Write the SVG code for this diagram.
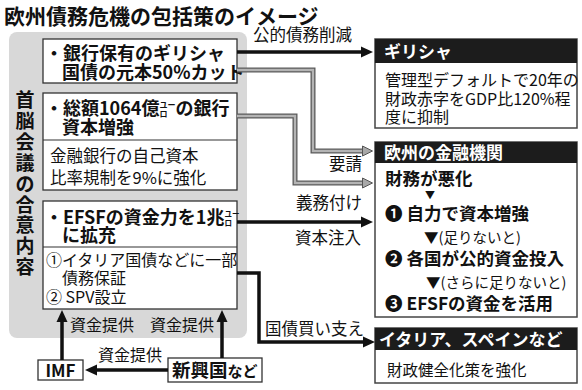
<svg xmlns="http://www.w3.org/2000/svg" width="582" height="390" viewBox="0 0 582 390">
<style>
text{font-family:"Noto Sans CJK JP","Noto Sans",sans-serif;fill:#111}
.b{font-weight:700}
.hd{font-size:18px;font-weight:700}
.bd{font-size:16.5px}
.lb{font-size:16.5px}
.wh{fill:#fff;font-size:17px;font-weight:700}
.box{fill:#fff;stroke:#333;stroke-width:1.3}
.rbox{fill:#fff;stroke:#444;stroke-width:1.5}
.band{fill:#1c1c1c}
.sep{stroke:#333;stroke-width:1.2}
.blk{fill:none;stroke:#111;stroke-width:3.5}
.gro{fill:none;stroke:#5a5a5a;stroke-width:5}
.gri{fill:none;stroke:#b4b4b4;stroke-width:2.4}
</style>
<defs>
<marker id="ab" markerUnits="userSpaceOnUse" markerWidth="13" markerHeight="12" refX="2" refY="6" orient="auto">
<path d="M0,0.5 L12,6 L0,11.5 z" fill="#111"/>
</marker>
<marker id="ag" markerUnits="userSpaceOnUse" markerWidth="12" markerHeight="12" refX="2" refY="6" orient="auto">
<path d="M0.5,1 L10.5,6 L0.5,11 z" fill="#a8a8a8" stroke="#555" stroke-width="1"/>
</marker>
</defs>

<text x="4" y="24" class="b" font-size="21">欧州債務危機の包括策のイメージ</text>

<g id="panel">
<rect x="9" y="32" width="238" height="306" rx="8" fill="#d8d8d8"/>
<text class="b" font-size="19" text-anchor="middle">
<tspan x="25" y="107">首</tspan><tspan x="25" y="128">脳</tspan><tspan x="25" y="149">会</tspan><tspan x="25" y="170">議</tspan><tspan x="25" y="191">の</tspan><tspan x="25" y="212">合</tspan><tspan x="25" y="232">意</tspan><tspan x="25" y="253">内</tspan><tspan x="25" y="274">容</tspan>
</text>
</g>

<g id="box1">
<rect class="box" x="43" y="39" width="194" height="44"/>
<text class="hd" x="45" y="60">・銀行保有のギリシャ</text>
<text class="hd" x="62" y="79">国債の元本50%カット</text>
</g>

<g id="box2">
<rect class="box" x="43" y="93" width="194" height="97"/>
<line class="sep" x1="43" y1="140" x2="237" y2="140"/>
<text class="hd" x="45" y="115">・総額1064億<tspan font-size="8" dy="-7">ユー</tspan><tspan font-size="8" dx="-16" dy="9">ロ</tspan><tspan dx="8" dy="-2">の銀行</tspan></text>
<text class="hd" x="62" y="134">資本増強</text>
<text class="bd" x="50" y="161.5">金融銀行の自己資本</text>
<text class="bd" x="50" y="183.5">比率規制を9%に強化</text>
</g>

<g id="box3">
<rect class="box" x="43" y="201" width="194" height="108"/>
<line class="sep" x1="43" y1="247" x2="237" y2="247"/>
<text class="hd" x="45" y="224">・EFSFの資金力を1兆<tspan font-size="7.5" dy="-7">ユー</tspan><tspan font-size="7.5" dx="-15" dy="9">ロ</tspan></text>
<text class="hd" x="62" y="242">に拡充</text>
<text font-size="16" x="46" y="266">①イタリア国債などに一部</text>
<text font-size="16" x="62" y="284">債務保証</text>
<text font-size="16" x="46" y="303">② SPV設立</text>
</g>

<g id="imf">
<rect class="box" x="38" y="360" width="45" height="20" stroke-width="1.5"/>
<text class="b" font-size="17" x="60.5" y="376.5" text-anchor="middle">IMF</text>
</g>

<g id="emerging">
<rect class="box" x="168" y="358" width="94" height="24" stroke-width="1.5"/>
<text class="b" font-size="18.5" x="172" y="377">新興国<tspan font-size="15">など</tspan></text>
</g>

<g id="greece">
<rect class="rbox" x="375" y="39" width="202" height="89"/>
<rect class="band" x="375" y="39" width="202" height="24"/>
<text class="wh" x="384" y="57.5" font-size="18">ギリシャ</text>
<text font-size="16" x="385" y="86">管理型デフォルトで20年の</text>
<text font-size="16" x="385" y="104.5">財政赤字をGDP比120%程</text>
<text font-size="16" x="385" y="123">度に抑制</text>
</g>

<g id="eubanks">
<rect class="rbox" x="375" y="142" width="202" height="175"/>
<rect class="band" x="375" y="142" width="202" height="21"/>
<text class="wh" x="384" y="158.5">欧州の金融機関</text>
<text class="b" font-size="17.5" x="385" y="185">財務が悪化</text>
<text font-size="10" x="425" y="199">▼</text>
<text class="b" font-size="17.5" x="385" y="220">❶ 自力で資本増強</text>
<text font-size="14.5" x="424" y="242.5">▼(足りないと)</text>
<text class="b" font-size="17.5" x="385" y="265">❷ 各国が公的資金投入</text>
<text font-size="14.5" x="426" y="287.5">▼(さらに足りないと)</text>
<text class="b" font-size="17.5" x="385" y="310">❸ EFSFの資金を活用</text>
</g>

<g id="italy">
<rect class="rbox" x="375" y="328" width="202" height="55"/>
<rect class="band" x="375" y="328" width="202" height="22"/>
<text class="wh" x="379" y="345.5">イタリア、スペインなど</text>
<text font-size="15.5" x="387" y="376">財政健全化策を強化</text>
</g>

<g id="connectors">
<path class="blk" d="M237,52 H363" marker-end="url(#ab)"/>
<text class="lb" x="253" y="41">公的債務削減</text>
<path class="gro" d="M237,70 H313 V151 H363"/>
<path class="gri" d="M237,70 H313 V151 H364" marker-end="url(#ag)"/>
<text class="lb" x="362" y="169.5" text-anchor="end">要請</text>
<path class="gro" d="M237,116 H295 V183 H363"/>
<path class="gri" d="M237,116 H295 V183 H364" marker-end="url(#ag)"/>
<text class="lb" x="362" y="208.5" text-anchor="end">義務付け</text>
<path class="blk" d="M237,222 H363" marker-end="url(#ab)"/>
<text class="lb" x="361" y="244" text-anchor="end">資本注入</text>
<path class="blk" d="M237,273 H259 V342 H365" marker-end="url(#ab)"/>
<text class="lb" x="265" y="334.5">国債買い支え</text>
<path class="blk" d="M62,360 V320" marker-end="url(#ab)"/>
<path class="blk" d="M222,358 V320" marker-end="url(#ab)"/>
<text font-size="16" x="70" y="331">資金提供</text>
<text font-size="16" x="150" y="331">資金提供</text>
<path class="blk" d="M168,370 H95" marker-end="url(#ab)"/>
<text font-size="16" x="98" y="361">資金提供</text>
</g>
</svg>
